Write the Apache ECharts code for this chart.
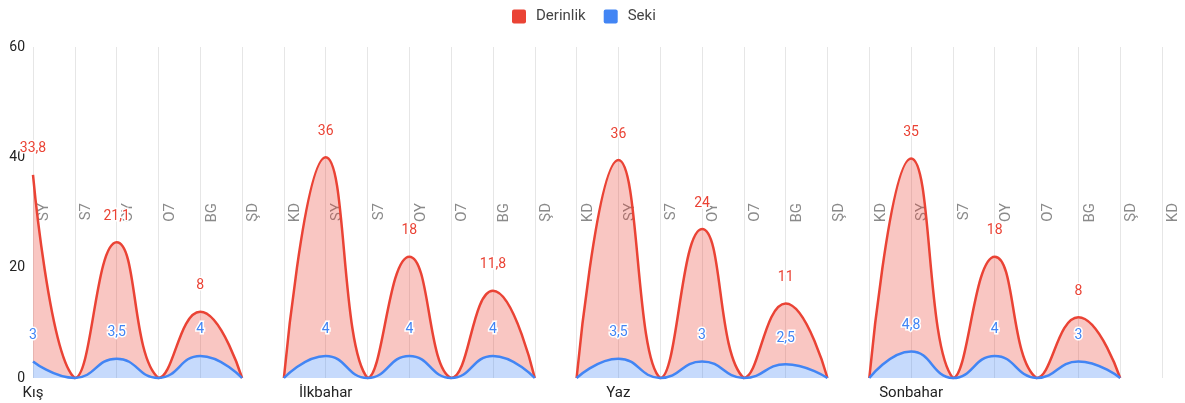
<!DOCTYPE html>
<html><head><meta charset="utf-8">
<script src="https://cdn.jsdelivr.net/npm/echarts@6/dist/echarts.min.js"></script>
<style>html,body{margin:0;padding:0;background:#fff}#c{width:1185px;height:403px}</style>
</head><body><div id="c"></div>
<script>
// Category codes along the x axis
const categories = ['SY','S7','OY','O7','BG','ŞD','KD','SY','S7','OY','O7','BG','ŞD','KD',
                    'SY','S7','OY','O7','BG','ŞD','KD','SY','S7','OY','O7','BG','ŞD','KD'];
// Season labels and the category index each is written under
const seasons = ['Kış','İlkbahar','Yaz','Sonbahar'];
const seasonLabelIndex = [0, 7, 14, 21];
// First category index of each season's data block
const seasonStart = [0, 6, 13, 20];

// Derinlik values per season
const derinlikKis       = [33.8, 0, 21.1, 0, 8, 0];
const derinlikIlkbahar  = [0, 36, 0, 18, 0, 11.8, 0];
const derinlikYaz       = [0, 36, 0, 24, 0, 11, 0];
const derinlikSonbahar  = [0, 35, 0, 18, 0, 8, 0];
// Seki values per season
const sekiKis       = [3, 0, 3.5, 0, 4, 0];
const sekiIlkbahar  = [0, 4, 0, 4, 0, 4, 0];
const sekiYaz       = [0, 3.5, 0, 3, 0, 2.5, 0];
const sekiSonbahar  = [0, 4.8, 0, 4, 0, 3, 0];

const yTicks = [0, 20, 40, 60];

const RED = '#EA4335', BLUE = '#4285F4';
const FONT = 'Roboto';
const SMOOTH = 0.5;

const derinlikBlocks = [derinlikKis, derinlikIlkbahar, derinlikYaz, derinlikSonbahar];
const sekiBlocks = [sekiKis, sekiIlkbahar, sekiYaz, sekiSonbahar];

// Classic bezier smoothing with bounding-box constraint on control points
function smoothSegments(pts) {
  let minX = Infinity, minY = Infinity, maxX = -Infinity, maxY = -Infinity;
  pts.forEach(p => { minX = Math.min(minX, p[0]); maxX = Math.max(maxX, p[0]); minY = Math.min(minY, p[1]); maxY = Math.max(maxY, p[1]); });
  const clamp = c => [Math.min(Math.max(c[0], minX), maxX), Math.min(Math.max(c[1], minY), maxY)];
  const segs = [];
  let cp0 = pts[0].slice();
  for (let i = 1; i < pts.length; i++) {
    const p = pts[i], prev = pts[i - 1], next = pts[i + 1];
    let cp1, ratio = 0.5, v = [0, 0];
    if (!next) { cp1 = p.slice(); }
    else {
      v = [next[0] - prev[0], next[1] - prev[1]];
      const lp = Math.hypot(p[0] - prev[0], p[1] - prev[1]);
      const ln = Math.hypot(next[0] - p[0], next[1] - p[1]);
      ratio = ln / (ln + lp);
      cp1 = [p[0] - v[0] * SMOOTH * (1 - ratio), p[1] - v[1] * SMOOTH * (1 - ratio)];
    }
    segs.push({ from: prev, c0: clamp(cp0), c1: clamp(cp1), p });
    cp0 = [p[0] + v[0] * SMOOTH * ratio, p[1] + v[1] * SMOOTH * ratio];
  }
  return segs;
}
const f = n => n.toFixed(2);
function forwardPath(segs) {
  return segs.map(s => `C${f(s.c0[0])} ${f(s.c0[1])} ${f(s.c1[0])} ${f(s.c1[1])} ${f(s.p[0])} ${f(s.p[1])}`).join('');
}
function backwardPath(segs) {
  return segs.slice().reverse().map(s => `C${f(s.c1[0])} ${f(s.c1[1])} ${f(s.c0[0])} ${f(s.c0[1])} ${f(s.from[0])} ${f(s.from[1])}`).join('');
}
const fmtNum = v => String(v).replace('.', ',');

function labelEls(pts, vals, color) {
  const out = [];
  vals.forEach((v, i) => {
    if (!v) return;
    const x = pts[i][0], y = pts[i][1] - 26;
    out.push({ type: 'text', x, y, silent: true,
      style: { text: fmtNum(v), fill: '#fff', stroke: '#fff', lineWidth: 3, font: `14px ${FONT}`, align: 'center', verticalAlign: 'middle' } });
    out.push({ type: 'text', x, y, silent: true,
      style: { text: fmtNum(v), fill: color, font: `14px ${FONT}`, align: 'center', verticalAlign: 'middle' } });
  });
  return out;
}

function renderSeki(params, api) {
  const k = params.dataIndex, s0 = seasonStart[k], seki = sekiBlocks[k];
  const pts = seki.map((v, i) => api.coord([s0 + i, v]));
  const base = seki.map((v, i) => api.coord([s0 + i, 0]));
  const segs = smoothSegments(pts);
  const line = `M${f(pts[0][0])} ${f(pts[0][1])}` + forwardPath(segs);
  const area = line + `L${f(base[base.length - 1][0])} ${f(base[base.length - 1][1])}L${f(base[0][0])} ${f(base[0][1])}Z`;
  return { type: 'group', children: [
    { type: 'path', silent: true, shape: { pathData: area }, style: { fill: BLUE, opacity: 0.3 } },
    { type: 'path', silent: true, shape: { pathData: line }, style: { fill: null, stroke: BLUE, lineWidth: 2.5, lineJoin: 'round' } },
    ...labelEls(pts, seki, BLUE)
  ] };
}

function renderDerinlik(params, api) {
  const k = params.dataIndex, s0 = seasonStart[k], seki = sekiBlocks[k], der = derinlikBlocks[k];
  const pts = der.map((v, i) => api.coord([s0 + i, v + seki[i]]));
  const low = seki.map((v, i) => api.coord([s0 + i, v]));
  const segs = smoothSegments(pts);
  const lowSegs = smoothSegments(low);
  const line = `M${f(pts[0][0])} ${f(pts[0][1])}` + forwardPath(segs);
  const lastLow = low[low.length - 1];
  const area = line + `L${f(lastLow[0])} ${f(lastLow[1])}` + backwardPath(lowSegs) + 'Z';
  return { type: 'group', children: [
    { type: 'path', silent: true, shape: { pathData: area }, style: { fill: RED, opacity: 0.3 } },
    { type: 'path', silent: true, shape: { pathData: line }, style: { fill: null, stroke: RED, lineWidth: 2.5, lineJoin: 'round' } },
    ...labelEls(pts, der, RED)
  ] };
}

const blockData = seasonStart.map(s => [s, 0]);

const chart = echarts.init(document.getElementById('c'), null, { renderer: 'canvas' });
chart.setOption({
  animation: false,
  textStyle: { fontFamily: FONT },
  legend: {
    data: ['Derinlik', 'Seki'], top: 9, left: 512, padding: 0,
    icon: 'path://M2 0H12Q14 0 14 2V12Q14 14 12 14H2Q0 14 0 12V2Q0 0 2 0Z',
    itemWidth: 14, itemHeight: 14, itemGap: 18,
    textStyle: { fontSize: 15, color: '#444', fontFamily: FONT, padding: [0, 0, 0, 5] }
  },
  grid: { left: 33, right: 18, top: 47, bottom: 25, containLabel: false },
  xAxis: [
    {
      type: 'category', data: categories, boundaryGap: false, position: 'bottom',
      axisLine: { show: false }, axisTick: { show: false },
      splitLine: { show: true, interval: 0, lineStyle: { color: '#e6e6e6', width: 1 } },
      axisLabel: {
        interval: 0, margin: 8, fontSize: 15, color: '#222', fontFamily: FONT,
        formatter: (v, i) => { const k = seasonLabelIndex.indexOf(i); return k >= 0 ? seasons[k] : ''; }
      }
    },
    {
      type: 'category', data: categories, boundaryGap: false, position: 'bottom', offset: -175,
      axisLine: { show: false }, axisTick: { show: false }, splitLine: { show: false },
      axisLabel: {
        interval: 0, rotate: 90, margin: 0, fontSize: 15, color: '#8a8a8a', fontFamily: FONT,
        verticalAlign: 'top', lineHeight: 23
      }
    }
  ],
  yAxis: {
    type: 'value', min: yTicks[0], max: yTicks[yTicks.length - 1], interval: 20,
    axisLine: { show: false }, axisTick: { show: false }, splitLine: { show: false },
    axisLabel: { margin: 8, fontSize: 14, color: '#222', fontFamily: FONT }
  },
  series: [
    { name: 'Derinlik', type: 'custom', xAxisIndex: 0, data: blockData, encode: { x: 0, y: 1 },
      renderItem: renderDerinlik, itemStyle: { color: RED }, z: 2, silent: true },
    { name: 'Seki', type: 'custom', xAxisIndex: 0, data: blockData, encode: { x: 0, y: 1 },
      renderItem: renderSeki, itemStyle: { color: BLUE }, z: 3, silent: true }
  ]
});
</script></body></html>
